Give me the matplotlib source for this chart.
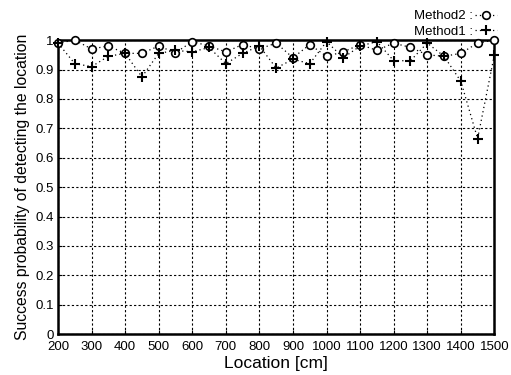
import numpy as np
from matplotlib import pyplot as plt

plt.rcParams['font.family'] = ['Liberation Sans', 'DejaVu Sans']

# Lokasjoner (cm)
lokasjon = np.arange(200, 1501, 50)

# Method2 (sirkler)
method2 = [0.99, 1.0, 0.97, 0.98, 0.955, 0.955, 0.98, 0.957, 0.995, 0.98,
           0.96, 0.985, 0.97, 0.99, 0.94, 0.985, 0.945, 0.96, 0.985, 0.965,
           0.99, 0.975, 0.95, 0.945, 0.955, 0.99, 1.0]

# Method1 (kryss)
method1 = [0.99, 0.92, 0.91, 0.945, 0.955, 0.875, 0.955, 0.965, 0.96, 0.975,
           0.92, 0.955, 0.98, 0.905, 0.935, 0.92, 0.995, 0.94, 0.98, 0.995,
           0.93, 0.93, 0.99, 0.945, 0.86, 0.665, 0.95]

fig = plt.figure(figsize=(5.11, 3.75), dpi=100)
ax = fig.add_axes([0.1135, 0.109, 0.854, 0.784])

linje2, = ax.plot(lokasjon, method2, color='black', linestyle=(0, (1, 2.5)),
                  linewidth=0.9, marker='o', markersize=5.5,
                  markerfacecolor='white', markeredgecolor='black',
                  markeredgewidth=1.2, clip_on=False, zorder=4)
linje1, = ax.plot(lokasjon, method1, color='black', linestyle=(0, (1, 2.5)),
                  linewidth=0.9, marker='+', markersize=7,
                  markeredgewidth=1.5, clip_on=False, zorder=5)

ax.set_xlim(200, 1500)
ax.set_ylim(0, 1)
ax.set_xticks(np.arange(200, 1501, 100))
ax.set_yticks(np.arange(0, 1.01, 0.1))
ax.set_yticklabels(['0', '0.1', '0.2', '0.3', '0.4', '0.5', '0.6', '0.7',
                    '0.8', '0.9', '1'])
ax.tick_params(labelsize=9.5, direction='in', length=3)
ax.tick_params(axis='x', pad=5)
ax.tick_params(axis='y', pad=3)
ax.grid(True, color='black', linestyle=(0, (2, 2)), linewidth=0.8)
for s in ax.spines.values():
    s.set_linewidth(1.8)

ax.set_xlabel('Location [cm]', fontsize=12.5, labelpad=2)
ax.set_ylabel('Success probability of detecting the location', fontsize=11.3,
              labelpad=4)

ax.legend([linje2, linje1], ['Method2 :', 'Method1 :'], loc='lower right',
          bbox_to_anchor=(1.02, 0.985), frameon=False, markerfirst=False,
          fontsize=9.5, handlelength=1.6, handletextpad=0.2, borderpad=0,
          labelspacing=0.25)

fig.savefig('out.png', dpi=100)
